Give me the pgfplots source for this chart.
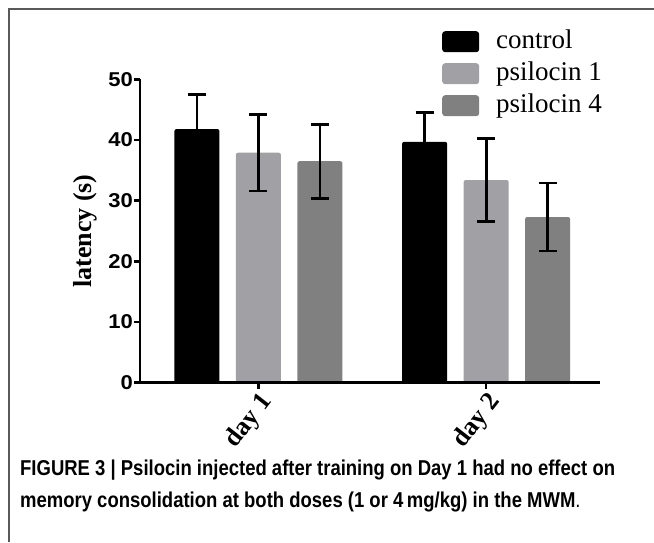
\documentclass[border=0pt]{standalone}
\usepackage{fontspec}
\setmainfont{Liberation Serif}
\newfontfamily\tickfont{Liberation Sans}[FakeStretch=1.1]
\newfontfamily\capfont{Liberation Sans}[FakeStretch=0.86]
\usepackage{pgfplots}
\usepackage{pgfplotstable}
\pgfplotsset{compat=1.18}
\definecolor{ctrlc}{RGB}{0,0,0}
\definecolor{pone}{RGB}{161,161,165}
\definecolor{pfour}{RGB}{128,128,128}
\pgfplotstableread{
x y e
1 41.8 5.7
2 39.7 4.8
}\ctrl
\pgfplotstableread{
x y e
1 37.9 6.3
2 33.4 6.8
}\pone
\pgfplotstableread{
x y e
1 36.5 6.1
2 27.3 5.6
}\pfour
\begin{document}
\begin{tikzpicture}
\path[use as bounding box] (0pt,0pt) rectangle (654pt,-542pt);
\draw[line width=1.3pt, color=black!65] (9pt,-542pt) -- (9pt,-9pt) -- (654pt,-9pt);
\begin{axis}[
  at={(140pt,-382.7pt)}, anchor=south west,
  scale only axis, width=460pt, height=303.4pt,
  xmin=0.48, xmax=2.5, ymin=0, ymax=50,
  ybar=16.5pt, bar width=45pt,
  axis x line=bottom, axis y line=left,
  axis line style={line width=2.8pt,-},
  axis on top,
  xtick={1,2}, xticklabels={day 1,day 2},
  ytick={0,10,20,30,40,50},
  tick align=outside, major tick length=6pt,
  tick style={line width=2.6pt, black},
  /pgf/number format/assume math mode=true,
  yticklabel style={font=\tickfont\fontsize{20}{22}\selectfont\bfseries, inner sep=1pt},
  xticklabel style={font=\fontsize{26}{30}\selectfont\bfseries, rotate=52, anchor=north east, inner sep=1pt},
  ylabel={latency (s)},
  ylabel style={at={(axis description cs:-0.1196,0.5)}, anchor=center, font=\fontsize{26}{30}\selectfont\bfseries},
  error bars/y dir=both, error bars/y explicit,
  error bars/error bar style={draw=black, line width=2.8pt},
  error bars/error mark options={draw=black, line width=2.8pt, mark size=9pt, rotate=90},
  legend cell align=left,
  legend image code/.code={\fill[#1, draw=none, rounded corners=3pt] (0pt,-10.5pt) rectangle (37pt,10.5pt);},
  legend style={at={(0.6565,1.1658)}, anchor=north west, draw=none, fill=none, inner sep=0pt,
    font=\fontsize{27}{32}\selectfont, row sep=7pt,
    nodes={text height=19pt, text depth=6pt, inner sep=0pt},
    /tikz/every odd column/.append style={column sep=17pt}},
]
\addplot[fill=ctrlc, draw=none, rounded corners=2pt] table[x=x, y=y, y error=e] {\ctrl};
\addplot[fill=pone, draw=none, rounded corners=2pt] table[x=x, y=y, y error=e] {\pone};
\addplot[fill=pfour, draw=none, rounded corners=2pt] table[x=x, y=y, y error=e] {\pfour};
\legend{control, psilocin 1, psilocin 4}
\end{axis}
\node[anchor=base west, inner sep=0pt, font=\capfont\fontsize{21.5}{24}\selectfont\bfseries] at (20pt,-475pt) {FIGURE 3 | Psilocin injected after training on Day 1 had no effect on};
\node[anchor=base west, inner sep=0pt, font=\capfont\fontsize{21.5}{24}\selectfont\bfseries] at (20pt,-507pt) {memory consolidation at both doses (1 or 4\,mg/kg) in the MWM{\mdseries .}};
\end{tikzpicture}
\end{document}
